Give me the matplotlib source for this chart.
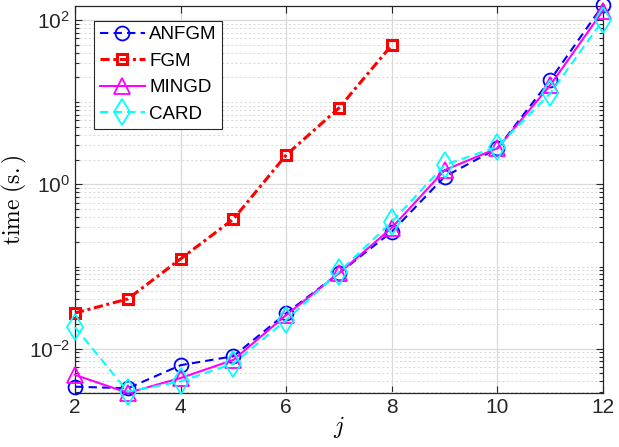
import numpy as np
import matplotlib
matplotlib.use('Agg')
import matplotlib.pyplot as plt
from matplotlib.ticker import LogLocator, NullFormatter

plt.rcParams['font.family'] = ['Liberation Sans', 'DejaVu Sans']
plt.rcParams['mathtext.fontset'] = 'cm'

j = [2, 3, 4, 5, 6, 7, 8, 9, 10, 11, 12]
anfgm = [0.00345, 0.0033, 0.0063, 0.0081, 0.027, 0.083, 0.265, 1.24, 2.74, 18.6, 152]
fgm = [0.0272, 0.0403, 0.124, 0.378, 2.28, 8.5, 49.6]
mingd = [0.0048, 0.0029, 0.0044, 0.0073, 0.0257, 0.083, 0.296, 1.49, 2.75, 16.1, 130]
card = [0.0182, 0.0030, 0.0040, 0.0066, 0.0223, 0.086, 0.35, 1.72, 2.87, 12.8, 100]

fig = plt.figure(figsize=(6.19, 4.47), dpi=100)
ax = fig.add_axes([0.1212, 0.1208, 0.8530, 0.8658])

# 各方法的曲線，標記不填色
ax.plot(j, anfgm, color='#0000ff', ls=(0, (4, 2.5)), marker='o', lw=1.5, ms=10,
        mfc='none', mew=1.3, label='ANFGM', clip_on=False, zorder=3)
ax.plot(j[:len(fgm)], fgm, color='#ff0000', ls=(0, (3, 1.2, 1, 1.2)), marker='s',
        lw=2.2, ms=7.5, mfc='none', mew=2.2, label='FGM', clip_on=False, zorder=3)
ax.plot(j, mingd, '-^', color='#ff00ff', lw=1.5, ms=12, mfc='none', mew=1.3,
        label='MINGD', clip_on=False, zorder=3)
ax.plot(j, card, color='#00ffff', ls=(0, (4, 2.5)), marker='d', lw=1.5, ms=13,
        mfc='none', mew=1.3, label='CARD', clip_on=False, zorder=3)

ax.set_yscale('log')
ax.set_xlim(2, 12)
ax.set_ylim(0.00289, 148)
ax.set_xticks([2, 4, 6, 8, 10, 12])
ax.yaxis.set_major_locator(LogLocator(base=100, numticks=10))
ax.yaxis.set_minor_locator(LogLocator(base=10, subs=np.arange(1, 10), numticks=30))
ax.yaxis.set_minor_formatter(NullFormatter())

ax.grid(True, which='major', color='#d9d9d9', lw=0.9, ls='-')
ax.grid(True, which='minor', axis='y', color='#dcdcdc', lw=0.8, ls=(0, (2, 2)))
ax.set_axisbelow(True)

ax.tick_params(which='both', direction='in', top=True, right=True, labelsize=15,
               colors='#262626', width=0.8)
ax.tick_params(which='major', length=5)
ax.tick_params(which='minor', length=3)
for s in ax.spines.values():
    s.set_color('#262626')
    s.set_linewidth(0.9)

ax.set_xlabel(r'$j$', fontsize=17, labelpad=-2)
ax.set_ylabel(r'$\mathrm{time\ (s.)}$', fontsize=17, labelpad=0)

leg = ax.legend(loc='upper left', bbox_to_anchor=(0.036, 0.962), fontsize=13.5,
                frameon=True, fancybox=False, edgecolor='#262626', framealpha=1,
                handlelength=2.4, handletextpad=0.25, borderpad=0.3, labelspacing=0.5,
                borderaxespad=0)
leg.get_frame().set_linewidth(0.8)

fig.savefig('out.png', dpi=100)
